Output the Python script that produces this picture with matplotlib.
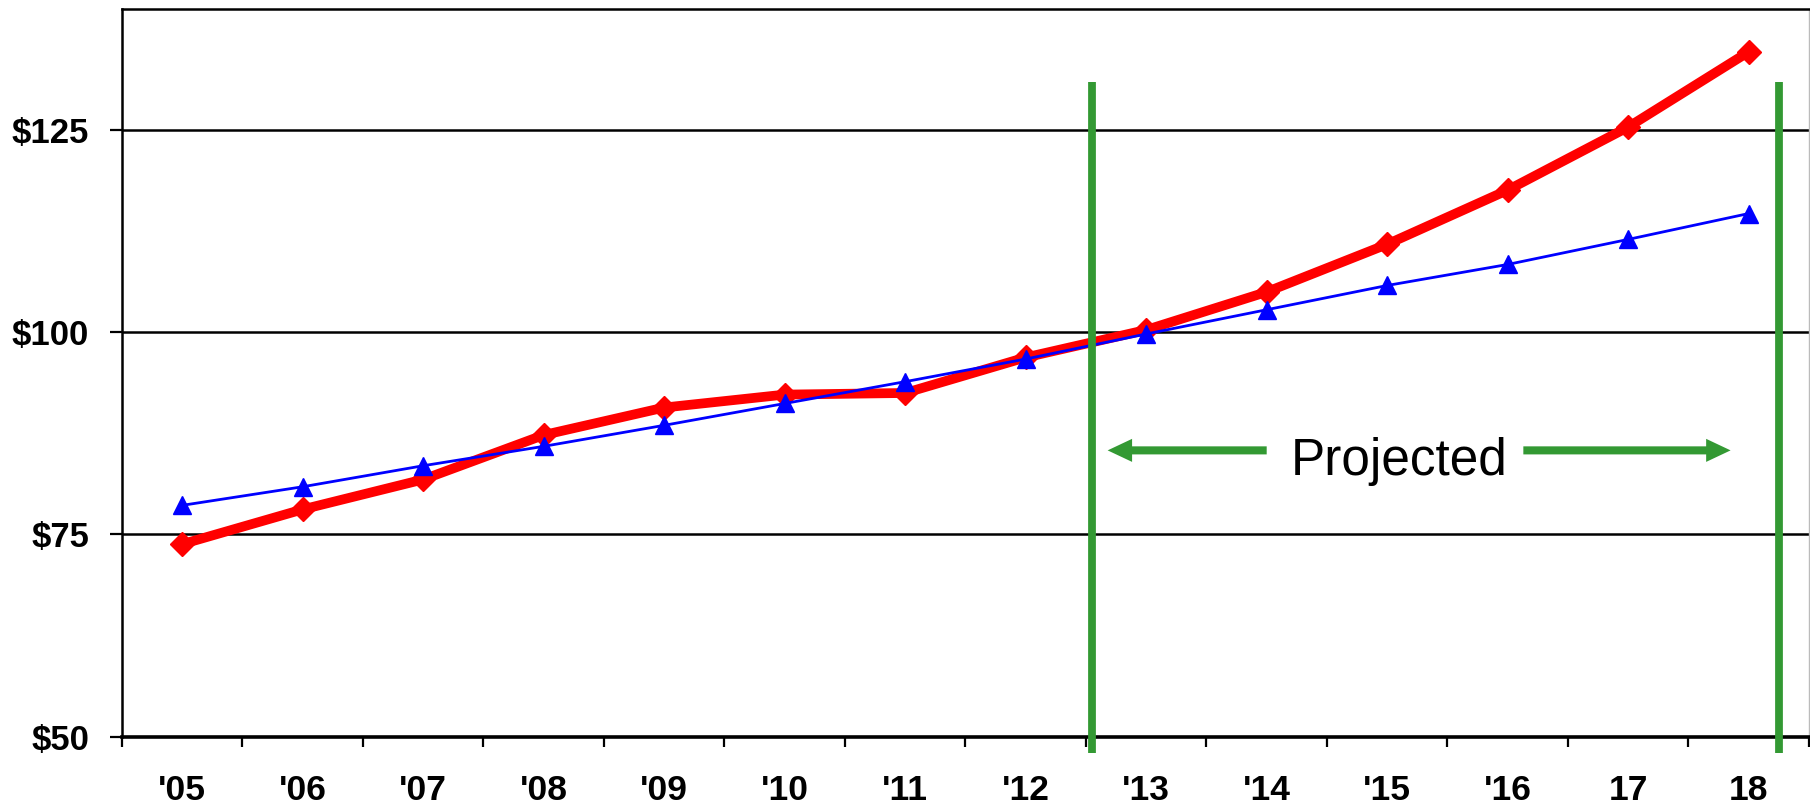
import matplotlib
matplotlib.use("Agg")
import matplotlib.pyplot as plt
from matplotlib.patches import FancyArrowPatch
import numpy as np

# Year labels along the category axis
years = ["'05", "'06", "'07", "'08", "'09", "'10", "'11", "'12",
         "'13", "'14", "'15", "'16", "17", "18"]

# Series values (dollars)
red_series = [73.8, 78.1, 81.8, 87.3, 90.7, 92.3, 92.5, 96.9,
              100.3, 105.0, 110.9, 117.6, 125.4, 134.7]
blue_series = [78.6, 80.9, 83.5, 85.9, 88.5, 91.2, 93.9, 96.7,
               99.8, 102.8, 105.8, 108.4, 111.5, 114.7]

y_ticks = [50, 75, 100, 125]
y_tick_labels = ["$50", "$75", "$100", "$125"]

GREEN = "#339933"
FONT = "Liberation Sans"

fig = plt.figure(figsize=(18.1, 8.06), dpi=100)
ax = fig.add_axes([0.0674, 0.0862, 0.9320, 0.9026])

x = np.arange(len(years))

# Horizontal gridlines
for v in y_ticks[1:]:
    ax.axhline(v, color="black", lw=1.8, zorder=1)

ax.plot(x, red_series, color="#FF0000", lw=7, marker="D", ms=12.5,
        solid_joinstyle="miter", zorder=3)
ax.plot(x, blue_series, color="#0000FF", lw=2.0, marker="^", ms=13,
        zorder=4)

# Boundaries of the projected period
proj_start, proj_end = 7.55, 13.25
for xv in (proj_start, proj_end):
    ax.plot([xv, xv], [48.0, 131.0], color=GREEN, lw=5.6,
            solid_capstyle="butt", clip_on=False, zorder=5)

# "Projected" label with arrows
arrow_y = 85.4
for tail, tip in ((9.0, 7.68), (11.13, 12.85)):
    arr = FancyArrowPatch((tail, arrow_y), (tip, arrow_y),
                          arrowstyle="simple,head_length=17.6,head_width=16.6,tail_width=5.8",
                          mutation_scale=1, color=GREEN, lw=0,
                          shrinkA=0, shrinkB=0, zorder=5)
    ax.add_patch(arr)
ax.text(10.10, 82.35, "Projected", fontsize=37, family=FONT,
        ha="center", va="baseline", color="black", zorder=6)

ax.set_xlim(-0.5, len(years) - 0.5)
ax.set_ylim(50, 140)

# Ticks on category boundaries, labels centred on categories
ax.set_xticks(np.arange(len(years) + 1) - 0.5)
ax.set_xticklabels([])
ax.set_xticks(x, minor=True)
ax.set_xticklabels(years, minor=True, fontsize=25.5, fontweight="bold",
                   family=FONT)
ax.tick_params(axis="x", which="major", direction="out", length=7.2,
               width=1.6, color="black")
ax.tick_params(axis="x", which="minor", length=0, pad=27)

ax.set_yticks(y_ticks)
ax.set_yticklabels(y_tick_labels, fontsize=25, fontweight="bold",
                   family=FONT)
ax.tick_params(axis="y", direction="out", length=8.6, width=1.6, pad=15)

for side in ("left", "top"):
    ax.spines[side].set_linewidth(1.8)
    ax.spines[side].set_color("black")
ax.spines["bottom"].set_linewidth(2.6)
ax.spines["right"].set_linewidth(1.0)
ax.spines["right"].set_color("#BBBBBB")

fig.savefig("out.png", dpi=100)
